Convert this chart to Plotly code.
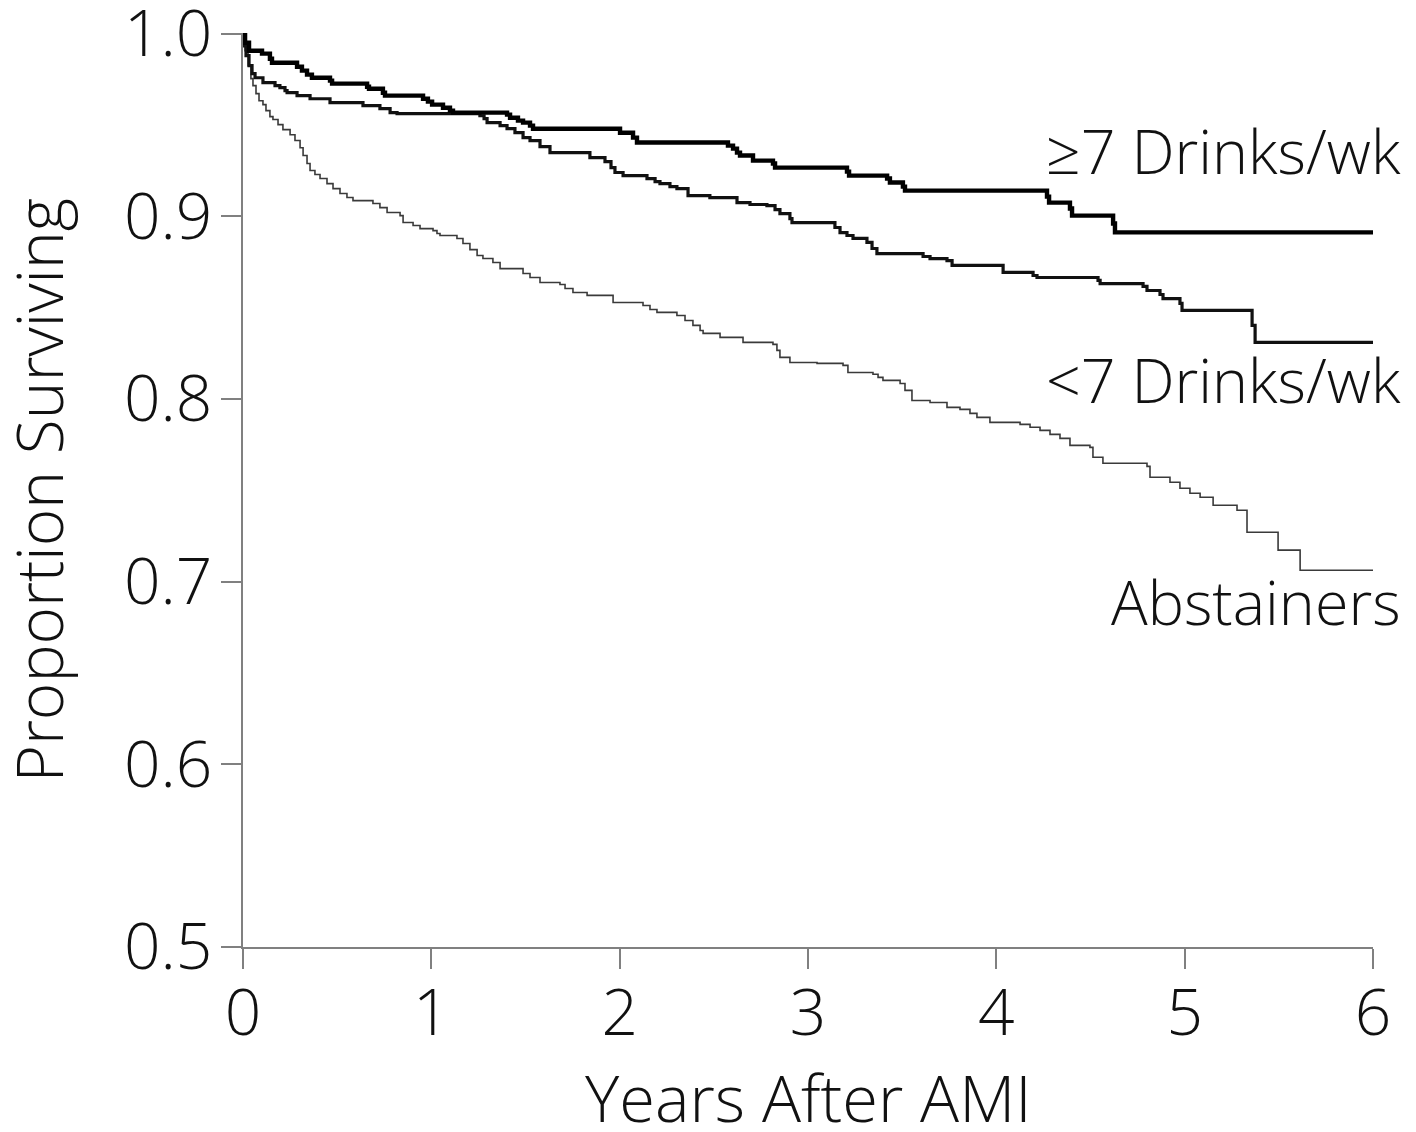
import plotly.graph_objects as go

# ---- data (step points: time in years after AMI, survival after drop) ----
heavy_t = [0, 0.011, 0.032, 0.101, 0.143, 0.154, 0.287, 0.313, 0.340, 0.366, 0.462, 0.473,
           0.659, 0.669, 0.743, 0.754, 0.956, 0.982, 1.004, 1.062, 1.099, 1.115, 1.402, 1.418,
           1.460, 1.487, 1.524, 1.540, 2.002, 2.071, 2.092, 2.575, 2.602, 2.623, 2.639, 2.708,
           2.814, 2.825, 3.207, 3.218, 3.420, 3.435, 3.504, 3.515, 4.269, 4.280, 4.391, 4.402,
           4.620, 4.630, 6.0]
heavy_s = [1.0, 0.9951, 0.9907, 0.9891, 0.9863, 0.9841, 0.9819, 0.9798, 0.9776, 0.9759, 0.9743, 0.9727,
           0.9710, 0.9699, 0.9677, 0.9661, 0.9644, 0.9628, 0.9612, 0.9595, 0.9579, 0.9568, 0.9557, 0.9540,
           0.9524, 0.9513, 0.9497, 0.9480, 0.9458, 0.9431, 0.9404, 0.9387, 0.9371, 0.9349, 0.9333, 0.9305,
           0.9289, 0.9267, 0.9245, 0.9223, 0.9207, 0.9185, 0.9163, 0.9141, 0.9108, 0.9075, 0.9043, 0.9004,
           0.8961, 0.8912, 0.8912]

light_t = [0, 0.005, 0.016, 0.032, 0.048, 0.064, 0.106, 0.170, 0.196, 0.223, 0.234, 0.287, 0.356,
           0.462, 0.637, 0.727, 0.781, 0.818, 1.258, 1.280, 1.296, 1.365, 1.402, 1.444, 1.487, 1.524,
           1.577, 1.630, 1.842, 1.922, 1.954, 1.975, 2.018, 2.145, 2.188, 2.214, 2.267, 2.304, 2.363,
           2.479, 2.623, 2.692, 2.782, 2.825, 2.851, 2.904, 2.915, 3.143, 3.170, 3.207, 3.239, 3.313,
           3.340, 3.366, 3.611, 3.648, 3.738, 3.765, 4.036, 4.195, 4.216, 4.540, 4.551, 4.779, 4.800,
           4.869, 4.885, 4.975, 4.986, 5.358, 5.374, 6.0]
light_s = [1.0, 0.9934, 0.9880, 0.9825, 0.9781, 0.9759, 0.9732, 0.9716, 0.9705, 0.9688, 0.9677, 0.9661, 0.9644,
           0.9623, 0.9606, 0.9590, 0.9568, 0.9562, 0.9551, 0.9535, 0.9513, 0.9497, 0.9480, 0.9458, 0.9431, 0.9415,
           0.9382, 0.9349, 0.9322, 0.9300, 0.9267, 0.9240, 0.9223, 0.9207, 0.9190, 0.9179, 0.9163, 0.9152, 0.9114,
           0.9103, 0.9075, 0.9065, 0.9059, 0.9037, 0.9015, 0.8988, 0.8966, 0.8939, 0.8911, 0.8895, 0.8879, 0.8857,
           0.8824, 0.8796, 0.8780, 0.8769, 0.8758, 0.8731, 0.8693, 0.8676, 0.8665, 0.8649, 0.8632, 0.8616, 0.8594,
           0.8572, 0.8550, 0.8523, 0.8485, 0.8403, 0.8310, 0.8310]

abst_t = [0, 0.011, 0.027, 0.042, 0.053, 0.069, 0.085, 0.106, 0.122, 0.143, 0.159, 0.186, 0.212, 0.250,
          0.276, 0.303, 0.319, 0.340, 0.356, 0.382, 0.409, 0.446, 0.478, 0.515, 0.552, 0.584, 0.690, 0.727,
          0.765, 0.834, 0.850, 0.903, 0.940, 1.009, 1.030, 1.046, 1.136, 1.168, 1.205, 1.243, 1.274, 1.327,
          1.365, 1.487, 1.524, 1.577, 1.683, 1.710, 1.752, 1.827, 1.965, 2.124, 2.161, 2.198, 2.304, 2.347,
          2.389, 2.427, 2.443, 2.533, 2.655, 2.814, 2.835, 2.851, 2.904, 3.048, 3.186, 3.212, 3.345, 3.372,
          3.398, 3.489, 3.515, 3.552, 3.648, 3.738, 3.807, 3.860, 3.897, 3.966, 4.126, 4.179, 4.232, 4.285,
          4.338, 4.391, 4.497, 4.513, 4.566, 4.800, 4.816, 4.922, 4.975, 5.028, 5.082, 5.151, 5.278, 5.331,
          5.496, 5.613, 6.0]
abst_s = [1.0, 0.9907, 0.9825, 0.9754, 0.9716, 0.9672, 0.9633, 0.9612, 0.9579, 0.9546, 0.9530, 0.9502, 0.9475,
          0.9447, 0.9415, 0.9376, 0.9333, 0.9289, 0.9251, 0.9229, 0.9207, 0.9179, 0.9152, 0.9125, 0.9103, 0.9086,
          0.9070, 0.9048, 0.9021, 0.9004, 0.8966, 0.8950, 0.8933, 0.8922, 0.8906, 0.8895, 0.8879, 0.8851, 0.8818,
          0.8786, 0.8769, 0.8747, 0.8714, 0.8687, 0.8665, 0.8638, 0.8627, 0.8605, 0.8583, 0.8567, 0.8528, 0.8512,
          0.8490, 0.8474, 0.8457, 0.8430, 0.8403, 0.8375, 0.8359, 0.8337, 0.8310, 0.8299, 0.8266, 0.8228, 0.8200,
          0.8195, 0.8184, 0.8145, 0.8135, 0.8118, 0.8102, 0.8085, 0.8047, 0.7992, 0.7981, 0.7954, 0.7943, 0.7921,
          0.7899, 0.7872, 0.7861, 0.7845, 0.7828, 0.7806, 0.7784, 0.7746, 0.7735, 0.7681, 0.7648, 0.7631, 0.7571,
          0.7544, 0.7511, 0.7484, 0.7462, 0.7418, 0.7391, 0.7270, 0.7172, 0.7062, 0.7062]

series_labels = ["\u22657 Drinks/wk", "<7 Drinks/wk", "Abstainers"]
label_y = [0.936, 0.8107, 0.689]

x_ticks = [0, 1, 2, 3, 4, 5, 6]
y_ticks = [0.5, 0.6, 0.7, 0.8, 0.9, 1.0]
x_title = "Years After AMI"
y_title = "Proportion Surviving"

FONT = "Open Sans"
TXT = "#111111"
AX = "#808080"

fig = go.Figure()
fig.add_trace(go.Scatter(x=abst_t, y=abst_s, mode="lines", line=dict(shape="hv", color="#3a3a3a", width=1.6),
                         showlegend=False, hoverinfo="skip"))
fig.add_trace(go.Scatter(x=light_t, y=light_s, mode="lines", line=dict(shape="hv", color="#111111", width=3.2),
                         showlegend=False, hoverinfo="skip"))
fig.add_trace(go.Scatter(x=heavy_t, y=heavy_s, mode="lines", line=dict(shape="hv", color="#000000", width=4.4),
                         showlegend=False, hoverinfo="skip"))

for lab, yy in zip(series_labels, label_y):
    fig.add_annotation(x=1.0265, xref="paper", y=yy, yref="y", text=lab, showarrow=False,
                       xanchor="right", yanchor="middle",
                       font=dict(family=FONT, size=61, color=TXT, weight=300))

# axis titles as annotations for exact placement
fig.add_annotation(x=0.5, xref="paper", y=-0.1636, yref="paper", text=x_title, showarrow=False,
                   xanchor="center", yanchor="middle", font=dict(family=FONT, size=65, color=TXT, weight=300))
fig.add_annotation(x=-0.181, xref="paper", y=0.5, yref="paper", text=y_title, showarrow=False, textangle=-90,
                   xanchor="center", yanchor="middle", font=dict(family=FONT, size=64, color=TXT, weight=300))

fig.update_layout(
    width=1416, height=1132,
    margin=dict(l=235, r=51, t=25, b=193, autoexpand=False),
    paper_bgcolor="white", plot_bgcolor="white",
    font=dict(family=FONT, size=60, color=TXT),
    xaxis=dict(range=[0, 6], tickvals=x_ticks, ticktext=[str(v) for v in x_ticks], automargin=False,
               showgrid=False, zeroline=False, showline=True, linecolor=AX, linewidth=2,
               ticks="outside", ticklen=20, tickwidth=2, tickcolor=AX, ticklabelstandoff=-11,
               ticklabeloverflow="allow",
               tickfont=dict(family=FONT, size=64, color=TXT, weight=300)),
    yaxis=dict(range=[0.4999, 1.0004], tickvals=y_ticks, ticktext=["%.1f" % v for v in y_ticks], automargin=False,
               showgrid=False, zeroline=False, showline=True, linecolor=AX, linewidth=2,
               ticks="outside", ticklen=20, tickwidth=2, tickcolor=AX, ticklabelstandoff=-4,
               ticklabeloverflow="allow",
               tickfont=dict(family=FONT, size=64, color=TXT, weight=300)),
)

fig.write_html("out.html")
